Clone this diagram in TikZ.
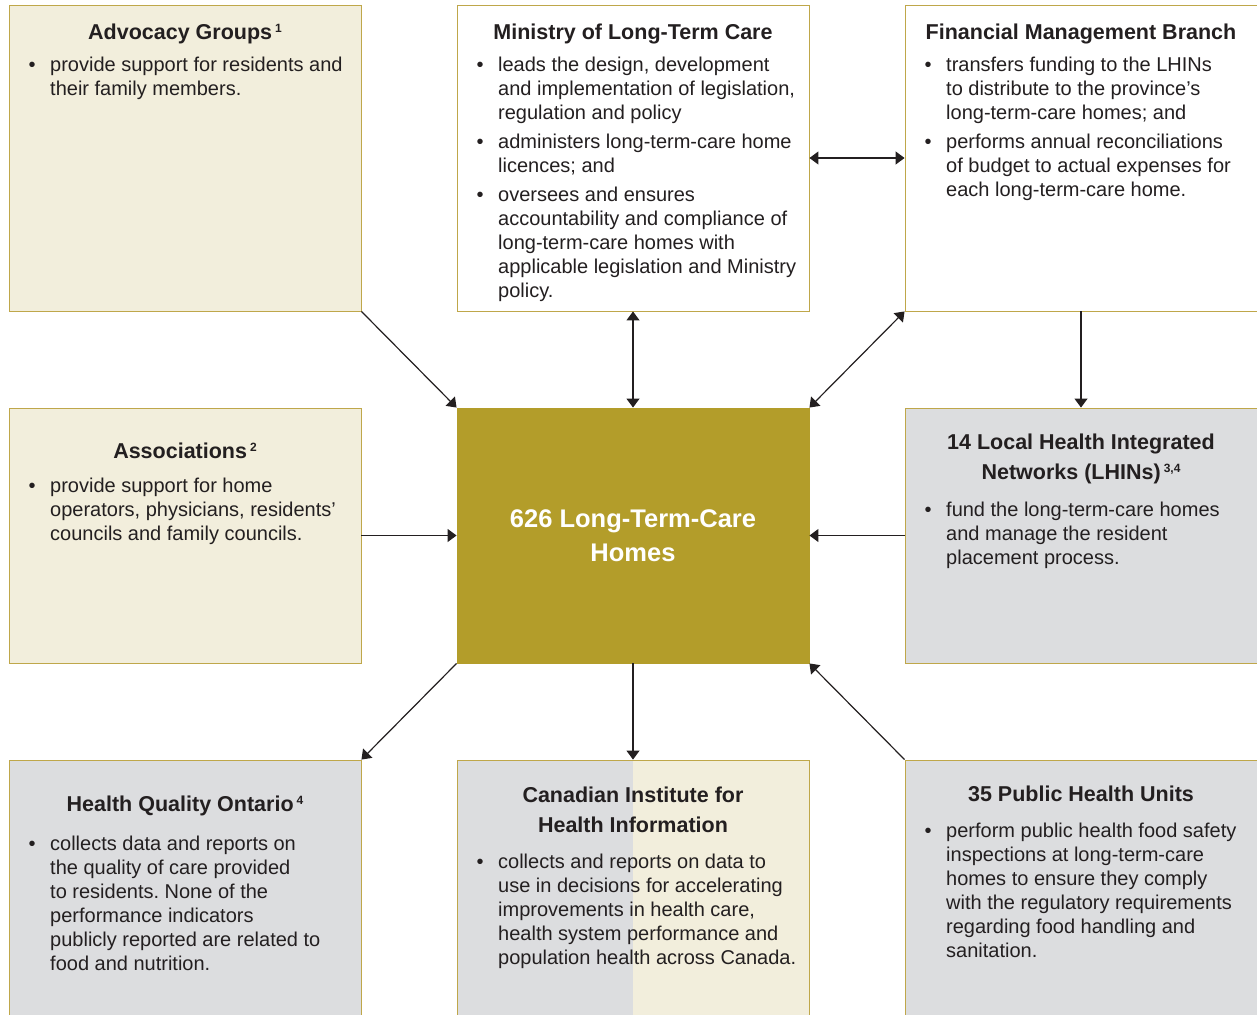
\documentclass[tikz,border=0pt]{standalone}
\usepackage{fontspec}
\setmainfont{Liberation Sans}
\usetikzlibrary{arrows.meta}
\definecolor{cream}{HTML}{F2EEDC}
\definecolor{olive}{HTML}{BFA74A}
\definecolor{ctrfill}{HTML}{B39D2A}
\definecolor{greyfill}{HTML}{DCDDDF}
\definecolor{ink}{HTML}{231F20}
\frenchspacing
\newcommand\fnm[1]{\hspace{3pt}\raisebox{7pt}{\fontsize{12}{12}\selectfont #1}}
\newcommand\blist[1]{\parbox[t]{330pt}{\fontsize{20}{24}\selectfont\frenchspacing\raggedright #1}}
\newcommand\bitem[1]{\par\hangindent=21.5pt\hangafter=1\noindent\makebox[21.5pt][l]{\textbullet}{\let\\\newline #1}\par}
\newcommand\bgap{\vspace{5pt}}
\begin{document}
\begin{tikzpicture}[x=1pt,y=-1pt,
  box/.style={draw=olive, line width=0.9pt, minimum width=352pt, inner sep=0pt, rectangle},
  conn/.style={draw=ink, line width=1.2pt, -{Triangle[length=9pt,width=13pt]}},
  dconn/.style={draw=ink, line width=1.2pt, {Triangle[length=9pt,width=13pt]}-{Triangle[length=9pt,width=13pt]}},
  title/.style={anchor=base, inner sep=0pt, text=ink, font=\fontsize{21.5}{30}\selectfont\bfseries},
  body/.style={anchor=base west, inner sep=0pt, text=ink},
  ctext/.style={anchor=base, inner sep=0pt, text=white, font=\fontsize{25.5}{34}\selectfont\bfseries}]
\useasboundingbox (0,0) rectangle (1257,1014);
\clip (0,0) rectangle (1257,1014);
% boxes
\node[box, fill=cream, minimum height=306pt] (adv) at (185,158) {};
\node[box, fill=white, minimum height=306pt] (min) at (633,158) {};
\node[box, fill=white, minimum height=306pt] (fin) at (1081,158) {};
\node[box, fill=cream, minimum height=255pt] (assoc) at (185,535.5) {};
\node[box, draw=ctrfill, fill=ctrfill, minimum height=255pt] (ctr) at (633,535.5) {};
\node[box, fill=greyfill, minimum height=255pt] (lhin) at (1081,535.5) {};
\node[box, fill=greyfill, minimum height=270pt] (hqo) at (185,895) {};
\fill[greyfill] (457,760) rectangle (633,1030);
\fill[cream] (633,760) rectangle (809,1030);
\node[box, minimum height=270pt] (cihi) at (633,895) {};
\node[box, fill=greyfill, minimum height=270pt] (ph) at (1081,895) {};
% titles
\node[title] (advT) at (185,40) {Advocacy Groups\fnm{1}};
\node[title] (minT) at (633,39.5) {Ministry of Long-Term Care};
\node[title] (finT) at (1081,39.5) {Financial Management Branch};
\node[title] (assocT) at (185,458) {Associations\fnm{2}};
\node[title] (lhinT) at (1081,449) {\parbox[t]{340pt}{\centering 14 Local Health Integrated\\Networks (LHINs)\fnm{3,4}}};
\node[title] (hqoT) at (185,811) {Health Quality Ontario\fnm{4}};
\node[title] (cihiT) at (633,802) {\parbox[t]{340pt}{\centering Canadian Institute for\\Health Information}};
\node[title] (phT) at (1081,801.5) {35 Public Health Units};
\node[ctext] (ctrT) at (633,527) {\parbox[t]{340pt}{\centering 626 Long-Term-Care\\Homes}};
% bodies
\node[body] (advB) at (28.5,72) {\blist{\bitem{provide support for residents and\\their family members.}}};
\node[body] (minB) at (476.5,71.5) {\blist{\bitem{leads the design, development\\and implementation of legislation,\\regulation and policy}\bgap\bitem{administers long-term-care home\\licences; and}\bgap\bitem{oversees and ensures\\accountability and compliance of\\long-term-care homes with\\applicable legislation and Ministry\\policy.}}};
\node[body] (finB) at (924.5,71.5) {\blist{\bitem{transfers funding to the LHINs\\to distribute to the province’s\\long-term-care homes; and}\bgap\bitem{performs annual reconciliations\\of budget to actual expenses for\\each long-term-care home.}}};
\node[body] (assocB) at (28.5,492) {\blist{\bitem{provide support for home\\operators, physicians, residents’\\councils and family councils.}}};
\node[body] (lhinB) at (924.5,516) {\blist{\bitem{fund the long-term-care homes\\and manage the resident\\placement process.}}};
\node[body] (hqoB) at (28.5,850) {\blist{\bitem{collects data and reports on\\the quality of care provided\\to residents. None of the\\performance indicators\\publicly reported are related to\\food and nutrition.}}};
\node[body] (cihiB) at (476.5,868) {\blist{\bitem{collects and reports on data to\\use in decisions for accelerating\\improvements in health care,\\health system performance and\\population health across Canada.}}};
\node[body] (phB) at (924.5,837) {\blist{\bitem{perform public health food safety\\inspections at long-term-care\\homes to ensure they comply\\with the regulatory requirements\\regarding food handling and\\sanitation.}}};
% connectors
\draw[conn] (adv.south east) -- (ctr.north west);
\draw[dconn] (min.south) -- (ctr.north);
\draw[dconn] (fin.south west) -- (ctr.north east);
\draw[dconn] (min.east) -- (fin.west);
\draw[conn] (fin.south) -- (lhin.north);
\draw[conn] (assoc.east) -- (ctr.west);
\draw[conn] (lhin.west) -- (ctr.east);
\draw[conn] (ctr.south west) -- (hqo.north east);
\draw[conn] (ctr.south) -- (cihi.north);
\draw[conn] (ph.north west) -- (ctr.south east);
\end{tikzpicture}
\end{document}
